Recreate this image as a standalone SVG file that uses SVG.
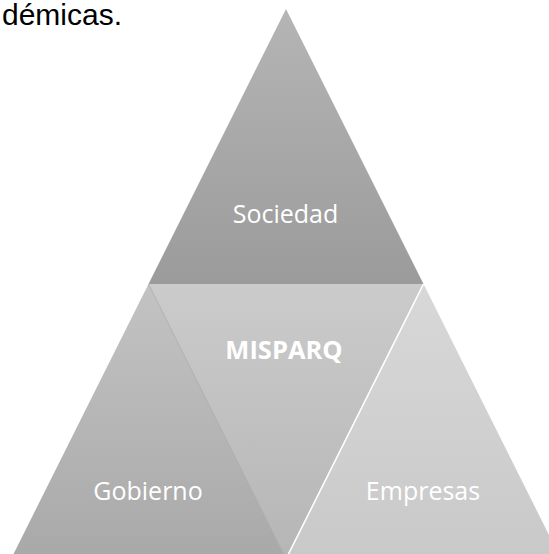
<svg xmlns="http://www.w3.org/2000/svg" width="549" height="554" viewBox="0 0 549 554">
<style>
.lbl{font-family:"Open Sans","Noto Sans","Liberation Sans",sans-serif;font-size:25px;fill:#ffffff;text-anchor:middle}
.bold{font-weight:bold;font-size:25.5px}
.body{font-family:"Liberation Sans",Arial,sans-serif;font-size:30px;fill:#000000}
</style>
<defs>
<linearGradient id="gTop" x1="0" y1="9" x2="0" y2="284" gradientUnits="userSpaceOnUse">
<stop offset="0" stop-color="#b5b5b5"/><stop offset="1" stop-color="#9b9b9b"/>
</linearGradient>
<linearGradient id="gMid" x1="0" y1="284" x2="0" y2="556" gradientUnits="userSpaceOnUse">
<stop offset="0" stop-color="#cbcbcb"/><stop offset="1" stop-color="#b6b6b6"/>
</linearGradient>
<linearGradient id="gLeft" x1="0" y1="284" x2="0" y2="554" gradientUnits="userSpaceOnUse">
<stop offset="0" stop-color="#c3c3c3"/><stop offset="1" stop-color="#a9a9a9"/>
</linearGradient>
<linearGradient id="gRight" x1="0" y1="284" x2="0" y2="554" gradientUnits="userSpaceOnUse">
<stop offset="0" stop-color="#d8d8d8"/><stop offset="1" stop-color="#c9c9c9"/>
</linearGradient>
</defs>
<rect width="549" height="554" fill="#ffffff"/>
<text class="body" x="2" y="25">démicas.</text>
<g id="gobierno">
<polygon points="148.5,284 13.5,554 283.5,554" fill="url(#gLeft)"/>
<text class="lbl" x="148" y="500">Gobierno</text>
</g>
<g id="misparq">
<polygon points="148.5,284 423.5,284 286,559" fill="url(#gMid)"/>
<line x1="148.5" y1="284" x2="283.5" y2="554" stroke="#9a9a9a" stroke-width="1" stroke-opacity="0.6"/>
<text class="lbl bold" x="284" y="359">MISPARQ</text>
</g>
<g id="empresas">
<polygon points="423.5,284 288.5,554 558.5,554" fill="url(#gRight)"/>
<line x1="423.5" y1="284" x2="288.5" y2="554" stroke="#ffffff" stroke-width="1.6"/>
<text class="lbl" x="423" y="500">Empresas</text>
</g>
<g id="sociedad">
<polygon points="286,9 148.5,284 423.5,284" fill="url(#gTop)"/>
<text class="lbl" x="285.5" y="223">Sociedad</text>
</g>
</svg>
